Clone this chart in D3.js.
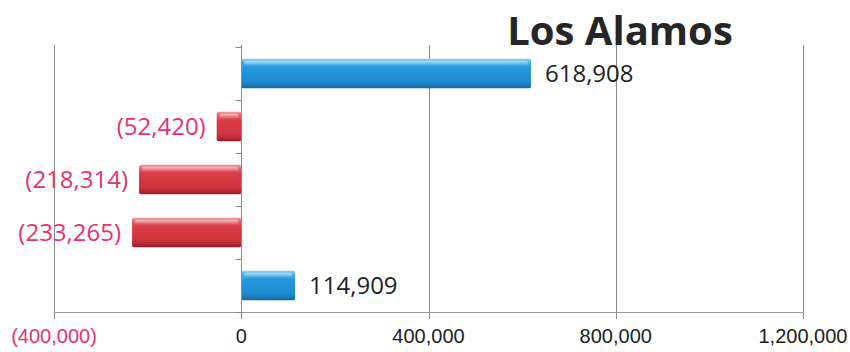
<!DOCTYPE html>
<html>
<head>
<meta charset="utf-8">
<script src="https://cdn.jsdelivr.net/npm/d3@7"></script>
<style>
  html, body { margin: 0; padding: 0; background: #fff; }
  svg { display: block; }
</style>
</head>
<body>
<svg id="chart" width="850" height="352"></svg>
<script>
// Net change by item, top to bottom
const categories = ["A", "B", "C", "D", "E"];
const values = [618908, -52420, -218314, -233265, 114909];
const tickValues = [-400000, 0, 400000, 800000, 1200000];
const tickLabels = ["(400,000)", "0", "400,000", "800,000", "1,200,000"];
const title = "Los Alamos";

const svg = d3.select("#chart");
const plot = { left: 54, right: 803, top: 47, bottom: 312 };

const x = d3.scaleLinear().domain([-400000, 1200000]).range([plot.left, plot.right]);
const y = d3.scaleBand().domain(categories).range([plot.top, plot.bottom]).paddingInner(0.44).paddingOuter(0.22);

const fmt = v => v < 0 ? "(" + d3.format(",")(-v) + ")" : d3.format(",")(v);
const negColor = "#e8336b";

// Gradients for the bevelled bars
const defs = svg.append("defs");
function grad(id, stops) {
  const g = defs.append("linearGradient").attr("id", id)
    .attr("x1", 0).attr("y1", 0).attr("x2", 0).attr("y2", 1);
  stops.forEach(([o, c]) => g.append("stop").attr("offset", o).attr("stop-color", c));
}
grad("gBlue", [[0, "#8fd0f4"], [0.12, "#4fb2ea"], [0.3, "#2598da"], [0.75, "#1c8ed2"], [0.92, "#1877b8"], [1, "#155f98"]]);
grad("gRed", [[0, "#f0a0a6"], [0.12, "#e66670"], [0.3, "#d83c47"], [0.75, "#d1343f"], [0.92, "#b02532"], [1, "#8c1a26"]]);
grad("gShine", [[0, "rgba(255,255,255,0.55)"], [1, "rgba(255,255,255,0)"]]);

// Vertical gridlines (extend slightly below the axis as ticks)
svg.append("g").selectAll("line").data(tickValues).join("line")
  .attr("x1", d => Math.round(x(d)) + 0.5).attr("x2", d => Math.round(x(d)) + 0.5)
  .attr("y1", plot.top - 2).attr("y2", plot.bottom + 7)
  .attr("stroke", "#8a8a8a").attr("stroke-width", 1);

// Horizontal axis line
svg.append("line")
  .attr("x1", plot.left).attr("x2", plot.right)
  .attr("y1", plot.bottom + 0.5).attr("y2", plot.bottom + 0.5)
  .attr("stroke", "#9a9a9a").attr("stroke-width", 1);

// Category axis at zero with short ticks at band boundaries
const zx = Math.round(x(0)) + 0.5;
const step = (plot.bottom - plot.top) / categories.length;
const bounds = d3.range(categories.length + 1).map(i => plot.top + i * step);
svg.append("g").selectAll("line").data(bounds).join("line")
  .attr("x1", zx - 6).attr("x2", zx)
  .attr("y1", d => Math.round(d) + 0.5).attr("y2", d => Math.round(d) + 0.5)
  .attr("stroke", "#8a8a8a");

// Tick labels
svg.append("g").selectAll("text").data(tickValues).join("text")
  .attr("x", d => x(d)).attr("y", 343)
  .attr("text-anchor", "middle")
  .attr("font-family", "'Liberation Sans', Arial, sans-serif")
  .attr("font-size", 20)
  .attr("fill", d => d < 0 ? negColor : "#222")
  .text((d, i) => tickLabels[i]);

// Bars
const bars = svg.append("g").selectAll("g").data(values).join("g");
bars.append("rect")
  .attr("x", d => Math.min(x(0), x(d)))
  .attr("y", (d, i) => y(categories[i]))
  .attr("width", d => Math.abs(x(d) - x(0)))
  .attr("height", y.bandwidth())
  .attr("rx", 2)
  .attr("fill", d => d < 0 ? "url(#gRed)" : "url(#gBlue)");
bars.append("rect")
  .attr("x", d => Math.min(x(0), x(d)) + 3)
  .attr("y", (d, i) => y(categories[i]) + 2)
  .attr("width", d => Math.max(0, Math.abs(x(d) - x(0)) - 6))
  .attr("height", 5)
  .attr("rx", 2)
  .attr("fill", "url(#gShine)");

// Zero line drawn over the bar bases
svg.append("line")
  .attr("x1", zx).attr("x2", zx)
  .attr("y1", plot.top).attr("y2", plot.bottom + 7)
  .attr("stroke", "#8a8a8a");

// Value labels
svg.append("g").selectAll("text").data(values).join("text")
  .attr("x", d => d < 0 ? x(d) - 11 : x(d) + 14)
  .attr("y", (d, i) => y(categories[i]) + y.bandwidth() / 2 + 8.5)
  .attr("text-anchor", d => d < 0 ? "end" : "start")
  .attr("font-family", "'Open Sans', Lato, sans-serif")
  .attr("font-size", 24)
  .attr("fill", d => d < 0 ? negColor : "#222")
  .text(d => fmt(d));

// Title
svg.append("text")
  .attr("x", 620).attr("y", 45)
  .attr("text-anchor", "middle")
  .attr("font-family", "'Open Sans', Lato, sans-serif")
  .attr("font-weight", "bold")
  .attr("font-size", 40)
  .attr("fill", "#262626")
  .text(title);
</script>
</body>
</html>
